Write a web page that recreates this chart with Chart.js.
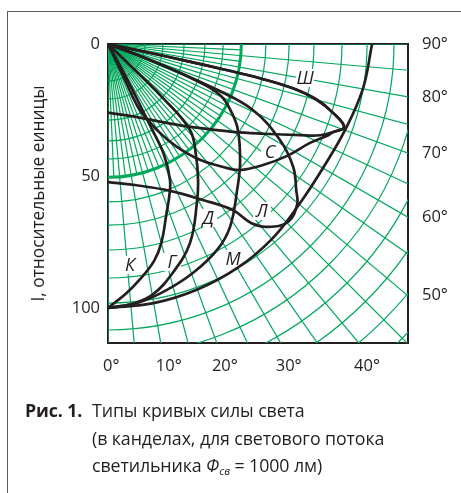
<!DOCTYPE html>
<html lang="ru">
<head>
<meta charset="utf-8">
<script src="https://cdn.jsdelivr.net/npm/chart.js@4.4.1/dist/chart.umd.min.js"></script>
<style>
  html, body { margin: 0; padding: 0; background: #fff; }
  #wrap { position: relative; width: 461px; height: 493px; overflow: hidden; font-family: 'Open Sans', sans-serif; color: #231f20; }
  #frame { position: absolute; left: 7px; top: 11px; right: -4px; bottom: -4px; border-left: 1.5px solid #5b5b5b; border-top: 1.5px solid #5b5b5b; }
  #chart { position: absolute; left: 0; top: 0; }
  #caption { position: absolute; left: 92px; top: 397px; width: 365px; font-size: 17.8px; line-height: 27.5px; text-indent: -67px; white-space: nowrap; letter-spacing: -0.1px; }
  #caption .fig { display: inline-block; width: 67px; text-indent: 0; font-weight: 700; }
  #caption sub { font-size: 11px; vertical-align: -3px; }
</style>
</head>
<body>
<div id="wrap">
  <div id="frame"></div>
  <canvas id="chart" width="461" height="493"></canvas>
  <div id="caption"><span class="fig">Рис. 1.</span>Типы кривых силы света<br>(в канделах, для светового потока<br>светильника <i>Ф</i><sub><i>св</i></sub> = 1000 лм)</div>
</div>
<script>
'use strict';

// Кривые силы света: угол (градусы от вертикали) и сила света (отн. ед.)
const angK = [0, 4, 7.7, 12, 15, 19, 22, 24.5, 26.8, 27.3, 27.8, 29, 30];
const valK = [100, 95, 90, 84, 78, 68, 62, 56.6, 47, 35, 24, 11, 0];

const angG = [0, 5, 10, 15.8, 22.4, 29.2, 33.5, 38.4, 43.6, 45.5, 46, 46.5];
const valG = [100, 99, 96.5, 90.1, 81.5, 69, 61.8, 53.6, 45, 29, 14, 0];

const angD = [0, 7.1, 13.5, 20.4, 27.9, 33.7, 41.5, 48, 56.5, 61, 65.5, 67.5, 69, 69.5];
const valD = [100, 98.5, 95.8, 92.5, 88.3, 83.3, 73.8, 67.3, 59, 53.5, 46.6, 35, 18, 0];

const angL = [0, 10.8, 22.9, 31.3, 36.9, 38.6, 41, 45.3, 49.6, 52.2, 56.4, 60.8, 65.5, 67.2, 68.7, 70.3, 71];
const valL = [52.3, 54.4, 60.4, 69.2, 78.7, 86.8, 91.8, 95.9, 94, 90.2, 84.2, 74.6, 60.3, 44.8, 24, 10, 0];

const angSh = [0, 20, 36.7, 46, 54.9, 60, 64.6, 66.7, 68.6, 70.6, 73, 75, 76.5, 77.3, 77.6, 77.8, 78, 78];
const valSh = [26, 29.3, 37.3, 45.5, 57.9, 68, 80.5, 87.4, 91.5, 94.8, 89, 82, 72, 59, 45, 32, 16, 0];

const angS = [0, 25.3, 25.8, 30.3, 33.8, 38.4, 43.1, 46.3, 52, 58, 63.9, 67.3, 68.6, 70.6, 73, 75, 76.5, 77.3, 77.6, 77.8, 78, 78];
const valS = [0, 15, 27.8, 39, 46.9, 56, 63.8, 69.1, 74.5, 80, 85.2, 90, 91.5, 94.8, 89, 82, 72, 59, 45, 32, 16, 0];

const angM = [0, 10, 20, 30, 40, 50, 60, 70, 80, 90];
const valM = [100, 99.7, 99, 98, 96.5, 94.5, 94, 95.5, 98, 100];

const curveNames = ['К', 'Г', 'Д', 'Л', 'Ш', 'С', 'М'];
const curveAngles = [angK, angG, angD, angL, angSh, angS, angM];
const curveValues = [valK, valG, valD, valL, valSh, valS, valM];

// шкалы
const yTicks = [0, 50, 100];
const bottomAngles = [0, 10, 20, 30, 40];
const rightAngles = [90, 80, 70, 60, 50];
const arcRadii = [6.8, 14, 20.8, 28.8, 36.7, 43.6, 50.5, 59.8, 68.6, 78, 88.6, 98.1, 108.3, 118.2, 128, 137.9, 147.7, 157.6, 167.4];

const X_MAX = 113.6;
const Y_MAX = 113.3;
const INK = '#231f20';
const GREEN = '#00a85c';
const FONT = "'Open Sans', sans-serif";
const rad = d => d * Math.PI / 180;

// подписи кривых (отн. ед.)
const labelSpots = [
    ['Ш', 74.6, 12.9], ['С', 61.4, 40.9], ['Л', 58.3, 63.3], ['Д', 37.9, 65.9],
    ['М', 47.3, 81.4], ['Г', 24.2, 82.6], ['К', 8.3, 83.7],
];

const datasets = curveNames.map((name, i) => ({
    label: name,
    data: curveAngles[i].map((a, j) => ({
        x: curveValues[i][j] * Math.sin(rad(a)),
        y: curveValues[i][j] * Math.cos(rad(a)),
    })),
    showLine: true,
    borderColor: INK,
    borderWidth: 2.7,
    pointRadius: 0,
    tension: 0.4,
    fill: false,
}));

const polarGrid = {
    id: 'polarGrid',
    beforeDatasetsDraw(chart) {
        const {ctx, chartArea: ca, scales: {x, y}} = chart;
        const ox = x.getPixelForValue(0), oy = y.getPixelForValue(0);
        const k = x.getPixelForValue(1) - ox;
        ctx.save();
        ctx.beginPath();
        ctx.rect(ca.left, ca.top, ca.width, ca.height);
        ctx.clip();
        ctx.strokeStyle = GREEN;
        ctx.lineWidth = 1.2;
        for (let a = 0; a <= 90; a += 2.5) {
            const r = (a % 5 === 0 ? 200 : 50.5) * k;
            ctx.beginPath();
            ctx.moveTo(ox, oy);
            ctx.lineTo(ox + r * Math.sin(rad(a)), oy + r * Math.cos(rad(a)));
            ctx.stroke();
        }
        arcRadii.forEach(r => {
            ctx.lineWidth = r === 50.5 ? 3 : 1.2;
            ctx.beginPath();
            ctx.arc(ox, oy, r * k, 0, Math.PI / 2);
            ctx.stroke();
        });
        // белые подложки под буквами
        ctx.fillStyle = '#fff';
        labelSpots.forEach(([t, lx, ly]) => {
            const px = x.getPixelForValue(lx), py = y.getPixelForValue(ly);
            ctx.fillRect(px - 9, py - 9, 18, 18);
        });
        ctx.restore();
    },
    afterDatasetsDraw(chart) {
        const {ctx, scales: {x, y}} = chart;
        ctx.save();
        ctx.fillStyle = INK;
        ctx.font = 'italic 18px ' + FONT;
        ctx.textAlign = 'center';
        ctx.textBaseline = 'middle';
        labelSpots.forEach(([t, lx, ly]) => {
            ctx.fillText(t, x.getPixelForValue(lx), y.getPixelForValue(ly) + 1);
        });
        ctx.restore();
    },
};

const tickFont = {family: FONT, size: 16.5};
const border = {display: true, color: INK, width: 2};

new Chart(document.getElementById('chart'), {
    type: 'scatter',
    data: {datasets},
    plugins: [polarGrid],
    options: {
        responsive: false,
        animation: false,
        layout: {padding: 0},
        plugins: {legend: {display: false}, tooltip: {enabled: false}},
        scales: {
            x: {
                type: 'linear', position: 'bottom', min: 0, max: X_MAX,
                grid: {display: false, drawTicks: false}, border,
                afterFit: s => { s.height = 150; },
                afterBuildTicks: s => { s.ticks = bottomAngles.map(a => ({value: Y_MAX * Math.tan(rad(a))})); },
                ticks: {
                    autoSkip: false, maxRotation: 0, align: 'start', labelOffset: -5, padding: 13,
                    font: tickFont, color: INK,
                    callback: (v, i) => bottomAngles[i] + '°',
                },
            },
            xTop: {
                type: 'linear', position: 'top', min: 0, max: X_MAX,
                grid: {display: false, drawTicks: false}, border,
                ticks: {display: false},
                afterFit: s => { s.height = 44; },
            },
            y: {
                type: 'linear', position: 'left', min: 0, max: Y_MAX, reverse: true,
                grid: {display: false, drawTicks: false}, border,
                afterFit: s => { s.width = 108; },
                afterBuildTicks: s => { s.ticks = yTicks.map(v => ({value: v})); },
                ticks: {padding: 8, font: tickFont, color: INK, callback: v => v},
                title: {
                    display: true, text: 'I, относительные еиницы', color: INK,
                    font: {family: FONT, size: 17.3}, padding: {top: 29},
                },
            },
            yRight: {
                type: 'linear', position: 'right', min: 0, max: Y_MAX, reverse: true,
                grid: {display: false, drawTicks: false}, border,
                afterFit: s => { s.width = 53; },
                afterBuildTicks: s => { s.ticks = rightAngles.map(a => ({value: X_MAX / Math.tan(rad(a))})); },
                ticks: {padding: 14, font: tickFont, color: INK, callback: (v, i) => rightAngles[i] + '°'},
            },
        },
    },
});
</script>
</body>
</html>
